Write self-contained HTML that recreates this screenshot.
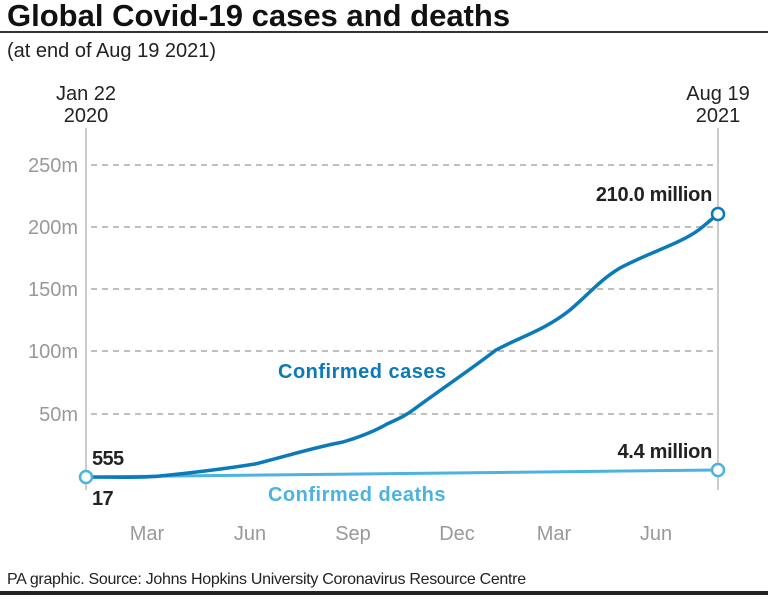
<!DOCTYPE html>
<html><head><style>
body{margin:0;background:#fff;width:768px;height:595px;overflow:hidden;font-family:"Liberation Sans",sans-serif}
</style></head><body>
<svg width="768" height="595" viewBox="0 0 768 595" xmlns="http://www.w3.org/2000/svg" font-family="Liberation Sans, sans-serif">
<text x="7" y="26" font-size="31" font-weight="bold" fill="#111" letter-spacing="0">Global Covid-19 cases and deaths</text>
<rect x="0" y="31" width="768" height="2" fill="#333"/>
<text x="7" y="57" font-size="20" fill="#222" letter-spacing="0">(at end of Aug 19 2021)</text>
<text x="86" y="100" font-size="20" fill="#222" text-anchor="middle">Jan 22</text>
<text x="86" y="122" font-size="20" fill="#222" text-anchor="middle">2020</text>
<text x="718" y="100" font-size="20" fill="#222" text-anchor="middle">Aug 19</text>
<text x="718" y="122" font-size="20" fill="#222" text-anchor="middle">2021</text>
<line x1="86" y1="128" x2="86" y2="490" stroke="#aaa" stroke-width="1.2"/>
<line x1="718" y1="128" x2="718" y2="490" stroke="#aaa" stroke-width="1.2"/>
<g stroke="#999" stroke-width="1.2" stroke-dasharray="6,5">
<line x1="91" y1="165" x2="716" y2="165"/>
<line x1="91" y1="227" x2="716" y2="227"/>
<line x1="91" y1="289" x2="716" y2="289"/>
<line x1="91" y1="351" x2="716" y2="351"/>
<line x1="91" y1="414" x2="716" y2="414"/>
</g>
<g font-size="20" fill="#999" text-anchor="end">
<text x="78" y="172">250m</text>
<text x="78" y="234">200m</text>
<text x="78" y="296">150m</text>
<text x="78" y="358">100m</text>
<text x="78" y="421">50m</text>
</g>
<path d="M86,477 L718,470" stroke="#4ab3e0" stroke-width="3" fill="none"/>
<path d="M86,477 C120,477 140,478 160,476 C200,472 230,468 255,464 C290,455 320,446 343,442 C360,437 375,431 387,424 C398,419 405,416 413,410 C440,390 470,370 496,350 C520,337 545,330 570,310 C590,293 600,280 620,268 C650,252 680,244 700,229 L718,214" stroke="#0a7ab8" stroke-width="3.5" fill="none"/>
<circle cx="86" cy="477" r="6" fill="#fff" stroke="#4ab3e0" stroke-width="2.5"/>
<circle cx="718" cy="470" r="6" fill="#fff" stroke="#4ab3e0" stroke-width="2.5"/>
<circle cx="718" cy="214" r="6" fill="#fff" stroke="#0a7ab8" stroke-width="2.5"/>
<text x="278" y="378" font-size="20" font-weight="bold" fill="#0a7ab8" letter-spacing="0.5">Confirmed cases</text>
<text x="357" y="501" font-size="20" font-weight="bold" fill="#4ab3e0" text-anchor="middle" letter-spacing="0.5">Confirmed deaths</text>
<text x="92" y="465" font-size="20" font-weight="bold" fill="#222" letter-spacing="-0.6">555</text>
<text x="92" y="505" font-size="20" font-weight="bold" fill="#222" letter-spacing="-0.6">17</text>
<text x="712" y="201" font-size="20" font-weight="bold" fill="#222" text-anchor="end" letter-spacing="-0.3">210.0 million</text>
<text x="712" y="458" font-size="20" font-weight="bold" fill="#222" text-anchor="end" letter-spacing="-0.3">4.4 million</text>
<g font-size="20" fill="#999" text-anchor="middle">
<text x="147" y="540">Mar</text>
<text x="250" y="540">Jun</text>
<text x="353" y="540">Sep</text>
<text x="457" y="540">Dec</text>
<text x="554" y="540">Mar</text>
<text x="656" y="540">Jun</text>
</g>
<text x="7" y="584" font-size="16" fill="#222" letter-spacing="-0.3">PA graphic. Source: Johns Hopkins University Coronavirus Resource Centre</text>
<rect x="0" y="591" width="768" height="4" fill="#222"/>
</svg>
</body></html>
